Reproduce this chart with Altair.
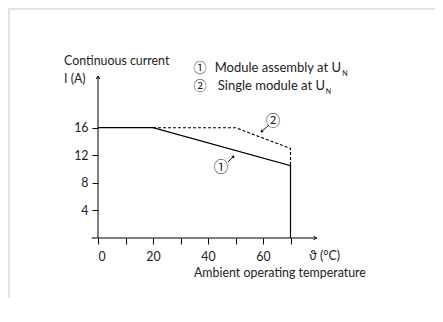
import altair as alt
import pandas as pd

# ---- data ----
temp_assembly = [0, 20, 70, 70]
curr_assembly = [16, 16, 10.5, 0]
temp_single = [20, 50, 70, 70]
curr_single = [16, 16, 13, 10.5]
x_tick_values = [0, 10, 20, 30, 40, 50, 60, 70]
y_tick_values = [4, 8, 12, 16]

FONT = "Lato"
CIRC_FONT = "Noto Sans CJK JP"
TXT = "#222222"

W, H = 220, 162
xs = alt.Scale(domain=[0, 80], nice=False, zero=False)
ys = alt.Scale(domain=[0, 23.5], nice=False, zero=False)

x_axis = alt.Axis(values=x_tick_values, title=None, domain=False, grid=False,
                  tickSize=6, tickColor="black", tickWidth=1,
                  labelExpr="datum.value % 20 == 0 ? datum.label : ''",
                  labelFont=FONT, labelFontSize=12.4, labelColor=TXT, labelPadding=6)
y_axis = alt.Axis(values=y_tick_values, title=None, domain=False, grid=False,
                  tickSize=6, tickColor="black", tickWidth=1,
                  labelFont=FONT, labelFontSize=12.4, labelColor=TXT, labelPadding=4)

def X(f):
    return alt.X(f, scale=xs, axis=x_axis)

def Y(f):
    return alt.Y(f, scale=ys, axis=y_axis)

df1 = pd.DataFrame({"t": temp_assembly, "i": curr_assembly, "o": list(range(len(temp_assembly)))})
df2 = pd.DataFrame({"t": temp_single, "i": curr_single, "o": list(range(len(temp_single)))})

line1 = alt.Chart(df1).mark_line(color="black", strokeWidth=1.2).encode(
    x=X("t:Q"), y=Y("i:Q"), order="o:O")
line2 = alt.Chart(df2).mark_line(color="black", strokeWidth=1.1, strokeDash=[3, 2]).encode(
    x=X("t:Q"), y=Y("i:Q"), order="o:O")

# axis lines with arrowheads
xline = alt.Chart(pd.DataFrame({"a": [-2.3], "b": [79.5], "y": [0]})).mark_rule(
    color="black", strokeWidth=1).encode(x=X("a:Q"), x2="b:Q", y=Y("y:Q"))
yline = alt.Chart(pd.DataFrame({"x": [0], "a": [0], "b": [23.5]})).mark_rule(
    color="black", strokeWidth=1).encode(x=X("x:Q"), y=Y("a:Q"), y2="b:Q")

CHEV_RIGHT = "M-1.2,-0.7L0,0L-1.2,0.7"
CHEV_UP = "M-0.7,1.2L0,0L0.7,1.2"

xarrow = alt.Chart(pd.DataFrame({"x": [79.5], "y": [0]})).mark_point(
    shape=CHEV_RIGHT, size=25, filled=False, color="black", strokeWidth=1, opacity=1).encode(
    x=X("x:Q"), y=Y("y:Q"))
yarrow = alt.Chart(pd.DataFrame({"x": [0], "y": [23.5]})).mark_point(
    shape=CHEV_UP, size=25, filled=False, color="black", strokeWidth=1, opacity=1).encode(
    x=X("x:Q"), y=Y("y:Q"))

# ---- text annotations (pixel positions relative to plot origin at page (98,76)) ----
OX, OY = 98, 76
one = pd.DataFrame({"a": [0]})

def txt(s, px, py, size=12.4, align="left", baseline="middle", font=FONT):
    return alt.Chart(one).mark_text(text=s, font=font, fontSize=size, color=TXT,
                                    align=align, baseline=baseline).encode(
        x=alt.value(px - OX), y=alt.value(py - OY))

texts = [
    txt("Continuous current", 64, 61),
    txt("I (A)", 64, 79),
    txt("①", 200, 68, size=13, align="center", font=CIRC_FONT),
    txt("Module assembly at U", 341, 68, size=13, align="right"),
    txt("N", 345, 74, size=7, align="center"),
    txt("②", 200, 86, size=13, align="center", font=CIRC_FONT),
    txt("Single module at U", 325, 86, size=13, align="right"),
    txt("N", 328.5, 92, size=7, align="center"),
    txt("ϑ (°C)", 309, 256),
    txt("Ambient operating temperature", 194, 273),
    txt("②", 273, 122, size=14.5, align="center", font=CIRC_FONT),
    txt("①", 221, 168, size=14.5, align="center", font=CIRC_FONT),
]

def arrow(x1, y1, x2, y2, angle):
    r = alt.Chart(one).mark_rule(color="black", strokeWidth=0.9).encode(
        x=alt.value(x1 - OX), x2=alt.value(x2 - OX), y=alt.value(y1 - OY), y2=alt.value(y2 - OY))
    h = alt.Chart(one).mark_point(shape=CHEV_UP, size=12, filled=False, color="black",
                                  strokeWidth=0.9, opacity=1, angle=angle).encode(
        x=alt.value(x2 - OX), y=alt.value(y2 - OY))
    return [r, h]

arrows = arrow(269, 125, 261, 132, 229) + arrow(228, 162, 234, 156, 45)

# light frame of the original picture
frame_top = alt.Chart(one).mark_rule(color="#e6e3df", strokeWidth=2).encode(
    x=alt.value(-OX + 8), x2=alt.value(443 - OX), y=alt.value(9 - OY))
frame_left = alt.Chart(one).mark_rule(color="#e6e3df", strokeWidth=2).encode(
    x=alt.value(9 - OX), y=alt.value(8 - OY), y2=alt.value(322 - OY))

chart = alt.layer(frame_top, frame_left, xline, yline, line2, line1, xarrow, yarrow,
                  *texts, *arrows).properties(
    width=W, height=H,
    autosize=alt.AutoSizeParams(type="none"),
    padding={"left": OX - 8, "top": OY - 8, "right": 427 - (OX - 8) - W, "bottom": 60},
    background="white",
).configure_view(stroke=None)

chart.save("out.html", embed_options={"renderer": "svg", "actions": False})
